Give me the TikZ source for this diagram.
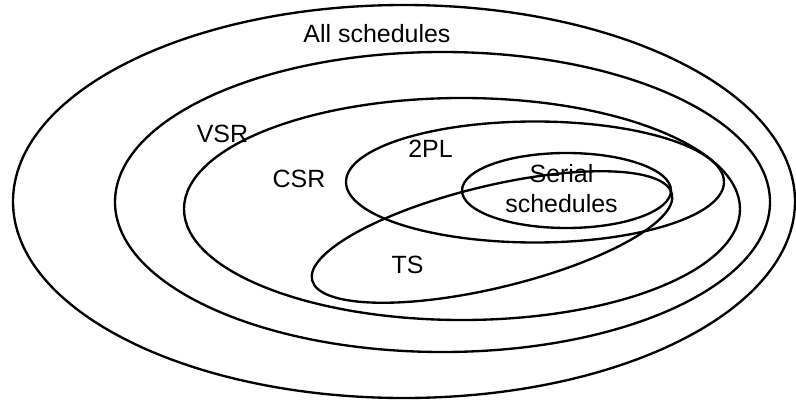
\documentclass[tikz,border=0pt]{standalone}
\usepackage{fontspec}
\setmainfont{Liberation Sans}
\tikzset{set/.style={line width=2pt},
  lbl/.style={font=\fontsize{21.3}{25.6}\selectfont, inner sep=0pt}}
\begin{document}
\begin{tikzpicture}[x=0.03cm, y=-0.03cm]
	  \useasboundingbox (0,0) rectangle (796,401);
	  \draw[set] (404,201.5) ellipse (391 and 196.5);
	  \draw[set] (442.5,202) ellipse (327.5 and 150);
	  \draw[set] (462,209) ellipse (278 and 111);
	  \draw[set] (535,182) ellipse (189 and 60.5);
	  \draw[set] (566.5,190.5) ellipse (104.5 and 37.5);
	  \draw[set, rotate around={13.5:(492,237)}] (492,237) ellipse (185 and 51);

	  \node[lbl, anchor=base] (all) at (377,43) {All schedules};
	  \node[lbl, anchor=base] (vsr) at (222.5,143) {VSR};
	  \node[lbl, anchor=base] (csr) at (299,188) {CSR};
	  \node[lbl, anchor=base] (tpl) at (430.5,158) {2PL};
	  \node[lbl, align=center] (serial) at (561.5,188.5) {Serial\\schedules};
	  \node[lbl, anchor=base] (ts) at (407.5,273) {TS};
	\end{tikzpicture}
\end{document}
